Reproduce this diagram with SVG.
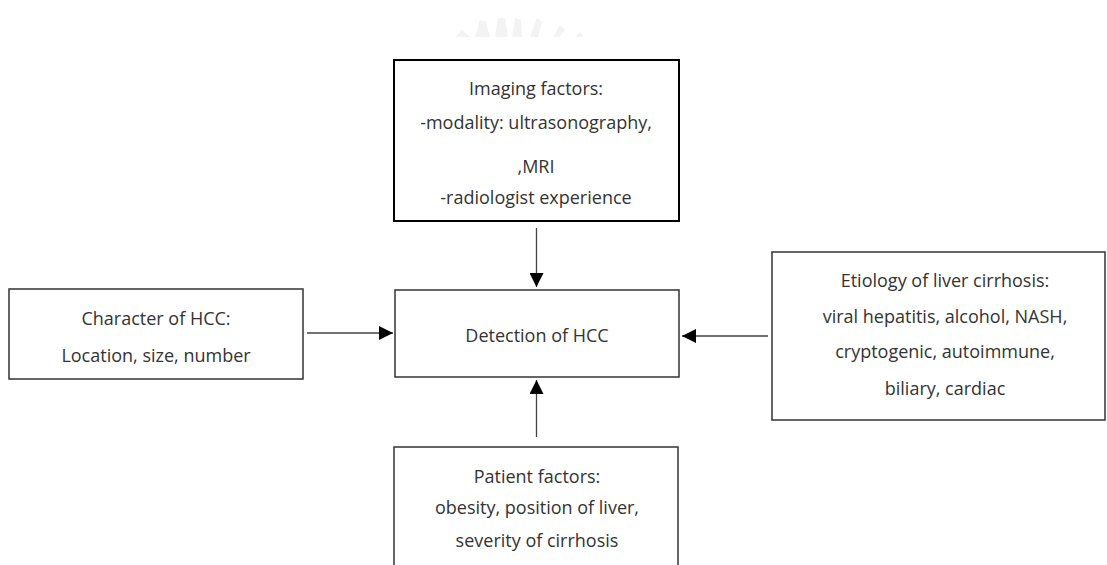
<svg xmlns="http://www.w3.org/2000/svg" width="1107" height="565" viewBox="0 0 1107 565">
<style>
.box{fill:#fff;stroke:#333;stroke-width:1.5}
.t{font-family:"Open Sans","Noto Sans",sans-serif;font-size:18px;fill:#333;text-anchor:middle}
.c{stroke:#444;stroke-width:1.3;fill:none}
</style>
<defs>
<marker id="ah" markerWidth="14" markerHeight="14" refX="14" refY="7" orient="auto" markerUnits="userSpaceOnUse">
<path d="M0,0 L14,7 L0,14 Z" fill="#000"/>
</marker>
</defs>
<rect width="1107" height="565" fill="#fff"/>
<g id="watermark" fill="#f3f3f3">
<path d="M455,37 L462,30 L470,37 Z"/>
<path d="M475,37 L480,20 L486,22 L490,37 Z"/>
<path d="M495,37 L498,18 L505,18 L508,37 Z"/>
<path d="M512,37 L515,18 L521,20 L522,37 Z"/>
<path d="M530,37 L537,18 L542,22 L538,37 Z"/>
<path d="M553,37 L560,25 L565,30 L560,37 Z"/>
<path d="M575,37 L580,32 L584,37 Z"/>
</g>
<g id="imaging">
<rect class="box" x="394" y="60" width="285" height="161" style="stroke:#000;stroke-width:2"/>
<text class="t" x="536" y="95">Imaging factors:</text>
<text class="t" x="536" y="129">-modality: ultrasonography,</text>
<text class="t" x="536" y="173">,MRI</text>
<text class="t" x="536" y="204">-radiologist experience</text>
</g>
<g id="character">
<rect class="box" x="9" y="289" width="294" height="90"/>
<text class="t" x="156" y="325">Character of HCC:</text>
<text class="t" x="156" y="362">Location, size, number</text>
</g>
<g id="detection">
<rect class="box" x="395" y="290" width="284" height="87"/>
<text class="t" x="537" y="342">Detection of HCC</text>
</g>
<g id="etiology">
<rect class="box" x="772" y="252" width="333" height="168"/>
<text class="t" x="945" y="287">Etiology of liver cirrhosis:</text>
<text class="t" x="945" y="323">viral hepatitis, alcohol, NASH,</text>
<text class="t" x="945" y="358">cryptogenic, autoimmune,</text>
<text class="t" x="945" y="395">biliary, cardiac</text>
</g>
<g id="patient">
<rect class="box" x="394" y="447" width="284" height="130"/>
<text class="t" x="537" y="483">Patient factors:</text>
<text class="t" x="537" y="514">obesity, position of liver,</text>
<text class="t" x="537" y="547">severity of cirrhosis</text>
</g>
<g id="connectors">
<line class="c" x1="536.5" y1="228" x2="536.5" y2="287" marker-end="url(#ah)"/>
<line class="c" x1="307" y1="333" x2="393" y2="333" marker-end="url(#ah)"/>
<line class="c" x1="768" y1="336" x2="682" y2="336" marker-end="url(#ah)"/>
<line class="c" x1="536.5" y1="437" x2="536.5" y2="380" marker-end="url(#ah)"/>
</g>
</svg>
